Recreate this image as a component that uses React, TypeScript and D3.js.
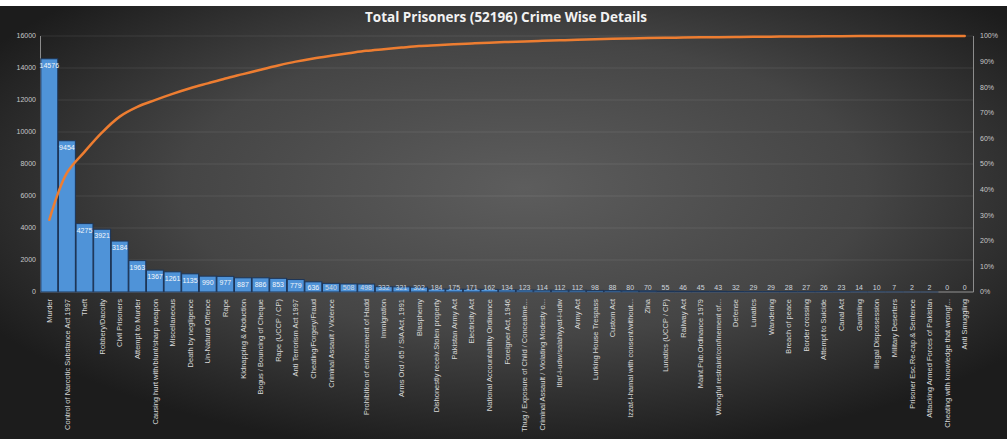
import React from 'react';
import * as d3 from 'd3';

const title = 'Total Prisoners (52196) Crime Wise Details';

const categories: string[] = [
  'Murder',
  'Control of Narcotic Substance Act 1997',
  'Theft',
  'Robbery/Dacoity',
  'Civil Prisoners',
  'Attempt to Murder',
  'Causing hurt with/blunt/sharp weapon',
  'Miscellaneous',
  'Death by negligence',
  'Un-Natural Offence',
  'Rape',
  'Kidnapping & Abduction',
  'Bogus / Bouncing of Cheque',
  'Rape (UCCP / CP)',
  'Anti Terrorism Act 1997',
  'Cheating/Forgery/Fraud',
  'Criminal Assault / Violence',
  '',
  'Prohibition of enforcement of Hadd',
  'Immigration',
  'Arms Ord / 65 / SIA Act, 1991',
  'Blasphemy',
  'Dishonestly receiv.Stolen property',
  'Pakistan Army Act',
  'Electricity Act',
  'National Accountability Ordinance',
  'Foreigner Act, 1946',
  'Thug / Exposure of Child / Concealme...',
  'Criminal Assault / Violating Modesty o...',
  'Itlaf-i-udw/salahiyyat-i-udw',
  'Army Act',
  'Lurking House Trespass',
  'Custom Act',
  'Izzat-i-hamal with consent/without...',
  'Zina',
  'Lunatics (UCCP / CP)',
  'Railway Act',
  'Maint.Pub.Ordinance 1979',
  'Wrongful restraint/confinement of...',
  'Defense',
  'Lunatics',
  'Wandering',
  'Breach of peace',
  'Border crossing',
  'Attempt to Suicide',
  'Canal Act',
  'Gambling',
  'Illegal Dispossession',
  'Military Deserters',
  'Prisoner Esc.Re-cap.& Sentence',
  'Attacking Armed Forces of Pakistan',
  'Cheating with knowledge that wrongf...',
  'Anti Smuggling',
];

const values: number[] = [
  14576, 9454, 4275, 3921, 3184, 1963, 1367, 1261, 1135, 990, 977, 887, 886, 853, 779, 636, 540,
  508, 498, 332, 321, 302, 184, 175, 171, 162, 134, 123, 114, 112, 112, 98, 88, 80, 70, 55, 46,
  45, 43, 32, 29, 29, 28, 27, 26, 23, 14, 10, 7, 2, 2, 0, 0,
];

const leftTicks: number[] = [0, 2000, 4000, 6000, 8000, 10000, 12000, 14000, 16000];
const rightTicks: number[] = [0, 0.1, 0.2, 0.3, 0.4, 0.5, 0.6, 0.7, 0.8, 0.9, 1];

export default function App() {
  const W = 1007;
  const H = 439;
  const plotLeft = 40.5;
  const plotRight = 973.5;
  const plotTop = 36;
  const plotBottom = 292;

  const keys = categories.map((_, i) => String(i));
  const x = d3.scaleBand<string>().domain(keys).range([plotLeft, plotRight]).paddingInner(0.04).paddingOuter(0.02);
  const y = d3.scaleLinear().domain([0, 16000]).range([plotBottom, plotTop]);
  const y2 = d3.scaleLinear().domain([0, 1]).range([plotBottom, plotTop]);

  const total = d3.sum(values);
  const cum = Array.from(d3.cumsum(values)).map((c) => c / total);

  const line = d3
    .line<number>()
    .x((_, i) => (x(keys[i]) as number) + x.bandwidth() / 2)
    .y((d) => y2(d))
    .curve(d3.curveCatmullRom.alpha(0.5));

  const font = "'Liberation Sans', Arial, sans-serif";

  return (
    <div style={{ position: 'fixed', left: 0, top: 0, width: W, height: H, overflow: 'hidden', background: '#fff' }}>
      <svg width={W} height={H} style={{ display: 'block' }}>
        <defs>
          <radialGradient id="bg" cx="0.52" cy="0.42" r="0.62" gradientUnits="objectBoundingBox">
            <stop offset="0" stopColor="#5d5d5d" />
            <stop offset="0.55" stopColor="#454545" />
            <stop offset="1" stopColor="#1c1c1c" />
          </radialGradient>
        </defs>
        <rect x={0} y={6} width={W} height={H - 6} fill="url(#bg)" />

        {/* gridlines */}
        {leftTicks.map((t) => (
          <line key={'g' + t} x1={plotLeft} x2={plotRight} y1={y(t)} y2={y(t)} stroke="rgba(255,255,255,0.09)" strokeWidth={1} />
        ))}

        {/* axis lines */}
        <line x1={plotLeft} x2={plotLeft} y1={plotTop} y2={plotBottom} stroke="#8c8c8c" strokeWidth={1} />
        <line x1={plotRight} x2={plotRight} y1={plotTop} y2={plotBottom} stroke="#8c8c8c" strokeWidth={1} />
        <line x1={plotLeft} x2={plotRight} y1={plotBottom} y2={plotBottom} stroke="#8c8c8c" strokeWidth={1} />

        {/* left tick labels */}
        {leftTicks.map((t) => (
          <text key={'l' + t} x={36} y={y(t)} dy="0.35em" textAnchor="end" fontFamily={font} fontSize={7} fill="#c8c8c8">
            {t}
          </text>
        ))}

        {/* right tick labels */}
        {rightTicks.map((t) => (
          <text key={'r' + t} x={980} y={y2(t)} dy="0.35em" textAnchor="start" fontFamily={font} fontSize={7} fill="#c8c8c8">
            {d3.format('.0%')(t)}
          </text>
        ))}

        {/* bars */}
        {values.map((v, i) => (
          <rect
            key={'b' + i}
            x={x(keys[i]) as number}
            y={y(v)}
            width={x.bandwidth()}
            height={plotBottom - y(v)}
            fill="#4f93d8"
            stroke="#1d3557"
            strokeWidth={1}
          />
        ))}

        {/* data labels */}
        {values.map((v, i) => {
          const cy = Math.min(y(v) + 6.5, plotBottom - 4);
          const inside = plotBottom - y(v) > 9;
          return (
            <text
              key={'d' + i}
              x={(x(keys[i]) as number) + x.bandwidth() / 2}
              y={cy}
              dy="0.35em"
              textAnchor="middle"
              fontFamily={font}
              fontSize={7}
              fill={inside ? '#f2f6fb' : '#cfd6de'}
            >
              {v}
            </text>
          );
        })}

        {/* cumulative line */}
        <path d={line(cum) || ''} fill="none" stroke="#ed7d31" strokeWidth={2.5} strokeLinejoin="round" strokeLinecap="round" />

        {/* category labels */}
        {categories.map((c, i) => {
          const cx = (x(keys[i]) as number) + x.bandwidth() / 2;
          return (
            <text
              key={'c' + i}
              transform={`translate(${cx},${299}) rotate(-90)`}
              dy="0.35em"
              textAnchor="end"
              fontFamily={font}
              fontSize={7.5}
              fill="#d9d9d9"
            >
              {c}
            </text>
          );
        })}

        {/* title */}
        <text x={506} y={22} textAnchor="middle" fontFamily="'Open Sans', 'Noto Sans', sans-serif" fontWeight="bold" fontSize={13.5} fill="#f2f2f2" textLength={282} lengthAdjust="spacingAndGlyphs">
          {title}
        </text>
      </svg>
    </div>
  );
}
